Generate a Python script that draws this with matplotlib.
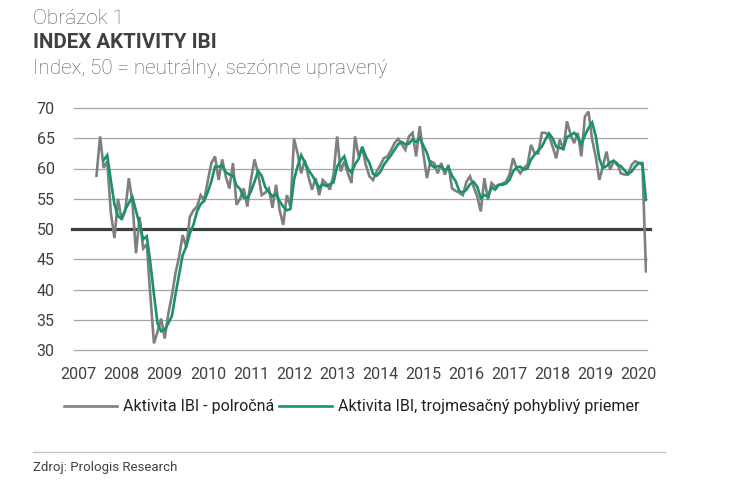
import matplotlib
matplotlib.use("Agg")
import matplotlib.pyplot as plt
import numpy as np
import pandas as pd

plt.rcParams['font.family'] = ['Roboto', 'DejaVu Sans']

# Monthly data, Jun 2007 .. Mar 2020
start_month = "2007-06"
grey = [58.8, 65.3, 60.1, 61.2, 52.7, 48.5, 55.0, 51.5, 53.0, 58.4,
        54.5, 46.0, 52.0, 46.8, 47.5, 39.0, 31.1, 33.0, 35.2, 31.9,
        36.0, 39.0, 42.7, 45.4, 49.0, 47.0, 52.0, 53.1, 53.7, 55.6,
        54.8, 58.0, 60.9, 62.0, 58.1, 61.5, 58.7, 56.7, 60.9, 54.0,
        55.0, 56.7, 53.7, 58.1, 61.5, 59.2, 55.6, 56.0, 56.7, 53.5,
        57.3, 53.1, 50.7, 55.6, 53.7, 64.9, 62.5, 59.2, 61.4, 58.7,
        56.5, 58.4, 55.6, 58.1, 57.5, 56.5, 59.0, 65.3, 59.5, 61.2,
        59.2, 57.6, 65.3, 62.0, 63.4, 60.6, 58.7, 58.1, 59.5, 60.5,
        61.7, 62.0, 63.0, 64.2, 64.9, 64.0, 63.1, 65.3, 65.9, 62.0,
        67.0, 62.5, 58.4, 61.2, 60.9, 59.2, 60.9, 59.0, 60.6, 56.7,
        56.3, 56.0, 55.6, 57.8, 58.7, 57.0, 55.4, 52.9, 58.4, 54.8,
        57.6, 57.0, 57.3, 57.5, 57.8, 59.0, 61.7, 60.0, 59.2, 60.1,
        60.6, 63.9, 62.5, 62.5, 65.9, 65.9, 65.5, 63.6, 61.7, 64.8,
        63.1, 67.8, 65.6, 64.2, 65.9, 62.0, 68.6, 69.4, 64.8, 62.0,
        58.1, 60.3, 62.8, 59.8, 61.2, 60.9, 59.2, 59.0, 59.0, 60.6,
        61.2, 60.9, 60.6, 43.0]

green = [np.nan, np.nan, 61.4, 62.2, 58.0, 54.1, 52.1, 51.7, 53.2, 54.3,
         55.3, 53.0, 50.8, 48.3, 48.8, 44.4, 39.2, 34.4, 33.1, 33.4,
         34.4, 35.6, 39.2, 42.4, 45.7, 47.1, 49.3, 50.7, 52.9, 54.1,
         54.7, 56.1, 57.9, 60.3, 60.3, 60.5, 59.4, 59.0, 58.8, 57.2,
         56.6, 55.2, 55.1, 56.2, 57.8, 59.6, 58.8, 56.9, 56.1, 55.4,
         55.8, 54.6, 53.7, 53.1, 53.3, 58.1, 60.4, 62.2, 61.0, 59.8,
         58.9, 57.9, 56.8, 57.4, 57.1, 57.4, 57.7, 60.3, 61.3, 62.0,
         60.0, 59.3, 60.7, 61.6, 63.6, 62.0, 60.9, 59.1, 58.8, 59.4,
         60.6, 61.4, 62.2, 63.1, 64.0, 64.4, 64.0, 64.1, 64.8, 64.4,
         65.0, 63.8, 62.6, 60.7, 60.2, 60.4, 60.3, 59.7, 60.2, 58.8,
         57.9, 56.3, 56.0, 56.5, 57.4, 57.8, 57.0, 55.1, 55.6, 55.4,
         56.9, 56.5, 57.3, 57.3, 57.5, 58.1, 59.5, 60.2, 60.3, 59.8,
         60.0, 61.5, 62.3, 63.0, 63.6, 64.8, 65.8, 65.0, 63.6, 63.4,
         63.2, 65.2, 65.5, 65.9, 65.2, 64.0, 65.5, 66.7, 67.6, 65.4,
         61.6, 60.1, 60.4, 61.0, 61.3, 60.6, 60.4, 59.7, 59.1, 59.5,
         60.3, 60.9, 60.9, 54.8]

year_ticks = list(range(2007, 2021))
y_ticks = [30, 35, 40, 45, 50, 55, 60, 65, 70]

label_grey = "Aktivita IBI - polročná"
label_green = "Aktivita IBI, trojmesačný pohyblivý priemer"

dates = pd.date_range(start_month, periods=len(grey), freq="MS")
xs = dates.year + (dates.month - 1) / 12.0

W, H = 737, 503
fig = plt.figure(figsize=(W / 100, H / 100), dpi=100)
fig.patch.set_facecolor("white")

ax = fig.add_axes([74 / W, 1 - 350 / H, (647 - 74) / W, (350 - 108) / H])
ax.set_xlim(2006.895, 2020.19)
ax.set_ylim(30, 70)

for v in y_ticks:
    if v == 50:
        continue
    ax.axhline(v, color="#a6a6a6", lw=0.9, zorder=1, clip_on=False)
ax.axhline(50, xmin=-0.004, xmax=1.006, color="#3f3f3f", lw=2.3, zorder=2, clip_on=False)

ax.plot(xs, grey, color="#7f7f7f", lw=1.9, zorder=3, label=label_grey, solid_joinstyle="miter")
ax.plot(xs, green, color="#17936a", lw=1.9, zorder=4, label=label_green, solid_joinstyle="miter")

ax.set_yticks(y_ticks)
ax.set_yticklabels([str(v) for v in y_ticks])
ax.set_xticks(year_ticks)
ax.set_xticklabels([str(y) for y in year_ticks])
ax.tick_params(axis="both", length=0, labelsize=11.5, colors="#404040")
ax.tick_params(axis="y", pad=14)
ax.tick_params(axis="x", pad=12)
for s in ax.spines.values():
    s.set_visible(False)
ax.set_facecolor("none")

leg = fig.legend(loc="center", bbox_to_anchor=(352 / W, 1 - 407 / H), ncol=2,
                 frameon=False, handlelength=3.3,
                 handletextpad=0.4, columnspacing=0.3,
                 prop={"size": 11.5})
for t in leg.get_texts():
    t.set_color("#222222")

fig.text(33 / W, 1 - 18 / H, "Obrázok 1", fontsize=15, color="#595959",
         fontweight="light", va="center", ha="left")
fig.text(33 / W, 1 - 43 / H, "INDEX AKTIVITY IBI", fontsize=14.8, color="#404040",
         fontweight="bold", va="center", ha="left")
fig.text(33 / W, 1 - 68 / H, "Index, 50 = neutrálny, sezónne upravený", fontsize=14.9,
         color="#595959", fontweight="light", va="center", ha="left")

fig.add_artist(plt.Line2D([33 / W, 665 / W], [1 - 452 / H, 1 - 452 / H],
                          transform=fig.transFigure, color="#bfbfbf", lw=0.9))
fig.text(33 / W, 1 - 467 / H, "Zdroj: Prologis Research", fontsize=9.5,
         color="#404040", va="center", ha="left")

fig.savefig("out.png", dpi=100, facecolor="white")
